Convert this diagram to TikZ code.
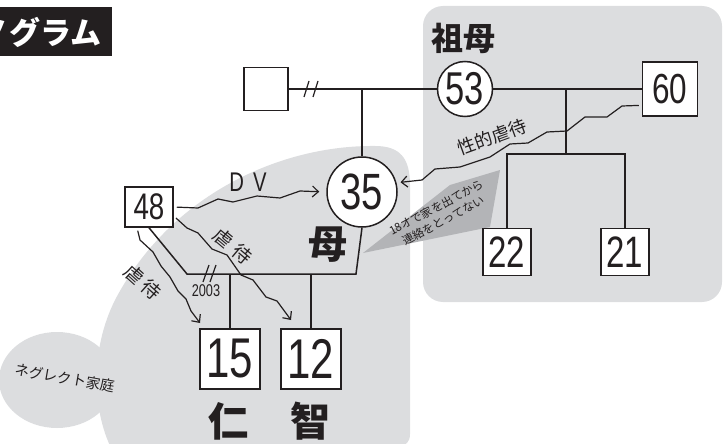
\documentclass[tikz,border=0pt]{standalone}
\usepackage{fontspec}
\usetikzlibrary{arrows.meta,calc}
\newfontfamily\jp{Noto Sans CJK JP}
\newfontfamily\num[FakeStretch=0.75]{Liberation Sans}
\definecolor{ink}{HTML}{231F20}
\definecolor{hh}{HTML}{DCDDDF}
\definecolor{hd}{HTML}{B3B4B7}
\newcommand{\fs}[1]{\fontsize{#1}{#1}\selectfont}

\begin{document}
\begin{tikzpicture}[x=1pt, y=-1pt, line width=1.5pt, color=ink,
    male/.style={rectangle, draw, fill=white, inner sep=0pt},
    female/.style={circle, draw, fill=white, inner sep=0pt},
    >={Straight Barb[length=6pt,width=11pt]},
    abuse/.style={->, line width=1.2pt, shorten <=3pt, shorten >=4pt},
    cut/.style={line width=1.2pt}]
  \useasboundingbox (0,0) rectangle (724,444);
  \clip (0,0) rectangle (724,444);

  % households
  \fill[hh, rounded corners=20pt] (423,6) rectangle (722,302);
  \fill[hh] (398,446) .. controls (406,446) and (410,442) .. (410,434) -- (410,185)
    .. controls (410,158) and (400,146) .. (375,146)
    .. controls (280,145) and (170,195) .. (115,300)
    .. controls (90,350) and (92,410) .. (112,450) -- cycle;
  \fill[hh] (57,380) ellipse [x radius=58, y radius=48];
  \fill[hd] (363,253) -- (450,185) -- (500,170) -- (490,227) -- cycle;

  % title
  \fill[ink] (-5,7) rectangle (112,56);
  \node[anchor=east, text=white, inner sep=0pt, font=\jp\bfseries\fs{31}] (title) at (102,32) {ジェノグラム};

  \node[male, minimum width=44pt, minimum height=43pt] (f0) at (266,89) {};
  \node[female, minimum size=55pt, font=\num\fs{46}] (gm) at (465,89) {53};
  \node[male, minimum width=55pt, minimum height=54pt, font=\num\fs{42}] (m60) at (670,89) {60};
  \node[female, minimum size=70pt, font=\num\fs{51}] (mom) at (362,192) {35};
  \node[male, minimum width=48pt, minimum height=40pt, font=\num\fs{37}] (dad) at (149,207) {48};
  \node[male, minimum width=48pt, minimum height=47pt, font=\num\fs{44}] (s22) at (507,252) {22};
  \node[male, minimum width=48pt, minimum height=47pt, font=\num\fs{44}] (s21) at (625,252) {21};
  \node[male, minimum size=60pt, font=\num\fs{56}] (jin) at (230,359) {15};
  \node[male, minimum size=60pt, font=\num\fs{56}] (tomo) at (311,359) {12};

  \node[font=\jp\bfseries\fs{32}] (gmlab) at (463,38) {祖母};
  \node[font=\jp\bfseries\fs{39}] (momlab) at (328,245) {母};
  \node[font=\jp\bfseries\fs{40}] (jinlab) at (228,421) {仁};
  \node[font=\jp\bfseries\fs{40}] (tomolab) at (310,421) {智};

  % family lines
  \draw (f0) -- (gm);
  \draw[cut] (304,97) -- (309,81) (313,97) -- (318,81);
  \draw (gm) -- (m60);
  \draw (mom |- gm) -- (mom);
  \coordinate (sib) at (566,154);
  \draw (sib |- gm) -- (sib);
  \draw (s22) |- (sib) -| (s21);

  \coordinate (ml) at (187,274);
  \coordinate (mr) at (356,274);
  \draw (dad.south) -- (ml) -- (mr) -- (mom.south);
  \draw[cut] (203,282) -- (209,265) (210,282) -- (216,265);
  \draw (jin) -- (jin |- ml);
  \draw (tomo) -- (tomo |- ml);
  \node[font=\num\fs{17}] (year) at (206,291) {2003};

  % abuse
  \coordinate (a15) at (200,323);
  \coordinate (a12) at (291,320);
  \draw[abuse, shorten >=7pt] (dad.east) -- (198,208) -- (218,199) -- (233,202) -- (257,196)
    -- (280,198) -- (300,191) -- (mom.west);
  \draw[abuse, shorten >=0pt] (dad.-20) -- (187,228) -- (198,233) -- (212,249) -- (227,255)
    -- (241,275) -- (253,280) -- (266,297) -- (277,301) -- (a12);
  \draw[abuse, shorten >=0pt] (dad.-120) -- (140,240) -- (153,252) -- (161,266) -- (170,277)
    -- (178,291) -- (186,299) -- (191,311) -- (a15);
  \draw[abuse] (m60.-150) -- (622,106) -- (607,117) -- (585,117) -- (567,131) -- (547,132)
    -- (528,143) -- (510,144) -- (490,157) -- (460,167) -- (435,169) -- (422,180) -- (mom.15);

  \node[font=\num\fs{27}] (dv) at (248,182) {D\hspace{9pt}V};
  \node[rotate=20, font=\jp\fs{18}] (sexlab) at (492,137) {性的虐待};
  \node[rotate=-40, font=\jp\fs{19}] (ab12) at (233,246) {虐\hspace{5pt}待};
  \node[rotate=-42, font=\jp\fs{19}] (ab15) at (143,282) {虐\hspace{4pt}待};
  \node[rotate=28, align=center, inner sep=1pt, font=\jp\fontsize{11.5}{15}\selectfont] (runaway) at (440,214)
    {18オで家を出てから\\連絡をとってない};
  \node[rotate=-10, font=\jp\fs{14.5}] (neglect) at (65,378) {ネグレクト家庭};
\end{tikzpicture}
\end{document}
